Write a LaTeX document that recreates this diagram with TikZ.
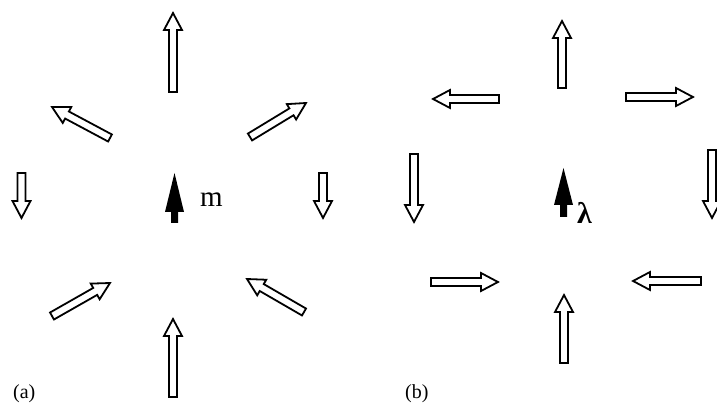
\documentclass[tikz,border=0pt]{standalone}
\usepackage{fontspec}
\setmainfont{Liberation Serif}
\usetikzlibrary{calc}
\tikzset{
  hollowarrow/.style={draw=black, fill=white, line width=1.8pt, line join=miter},
  solidarrow/.style={fill=black, draw=none},
  lbl/.style={inner sep=0pt, anchor=base west, font=\fontsize{20}{22}\selectfont},
  sym/.style={inner sep=0pt, anchor=base west, font=\fontsize{29}{31}\selectfont}
}
% \harrow{name}{tail}{tip}
\newcommand\harrow[3]{%
  \path (#2) coordinate (#1-t) (#3) coordinate (#1-h);
  \draw[hollowarrow] let \p1=($(#1-h)-(#1-t)$), \n1={atan2(\y1,\x1)}, \n2={veclen(\x1,\y1)} in
    [shift={(#1-t)}, rotate=\n1]
    (0pt,-4pt) -- (\n2-17pt,-4pt) -- (\n2-17pt,-9pt) -- (\n2,0pt) -- (\n2-17pt,9pt) -- (\n2-17pt,4pt) -- (0pt,4pt) -- cycle;
}
% \sarrow{name}{x}{tip y}{bottom y}
\newcommand\sarrow[4]{%
  \path (#2,#3) coordinate (#1-h) (#2,#4) coordinate (#1-t);
  \fill[solidarrow] (#1-h) -- ++(9.5,39) -- ++(-6,0) |- ([xshift=-3.5pt]#1-t) -- ++(0,-10) -- ++(-6,0) -- cycle;
}
\begin{document}
\begin{tikzpicture}[x=1pt,y=-1pt]
\useasboundingbox (0,0) rectangle (717,403);
% ---------- panel (a)
\harrow{a1}{173,92}{173,13}
\harrow{a2}{173,397}{173,319}
\harrow{a3}{110,138}{52,107}
\harrow{a4}{250,137}{306,103}
\harrow{a5}{21.5,173}{21.5,218}
\harrow{a6}{323,173}{323,218}
\harrow{a7}{52,316}{110,283}
\harrow{a8}{304,312}{247,279}
\path (174.5,173) coordinate (am-h) (174.5,223) coordinate (am-t);
\fill[solidarrow] (am-h) -- (184,212) -- (178,212) -- (178,223) -- (171,223) -- (171,212) -- (165,212) -- cycle;
\node[sym] (mlabel) at (200,207) {m};
\node[lbl] (alabel) at (13,398) {(a)};
% ---------- panel (b)
\harrow{b1}{562,88}{562,21}
\harrow{b2}{499,99}{433,99}
\harrow{b3}{626,97}{693,97}
\harrow{b4}{414,154}{414,222}
\harrow{b5}{712,150}{712,218}
\harrow{b6}{431,282}{498,282}
\harrow{b7}{701,281}{633,281}
\harrow{b8}{564,363}{564,295}
\path (563.5,168) coordinate (bm-h) (563.5,217) coordinate (bm-t);
\fill[solidarrow] (bm-h) -- (573,205) -- (567,205) -- (567,217) -- (560,217) -- (560,205) -- (554,205) -- cycle;
\node[sym, font=\fontsize{30}{32}\selectfont\bfseries] (llabel) at (577,224) {λ};
\node[lbl] (blabel) at (405,398) {(b)};
\end{tikzpicture}
\end{document}
